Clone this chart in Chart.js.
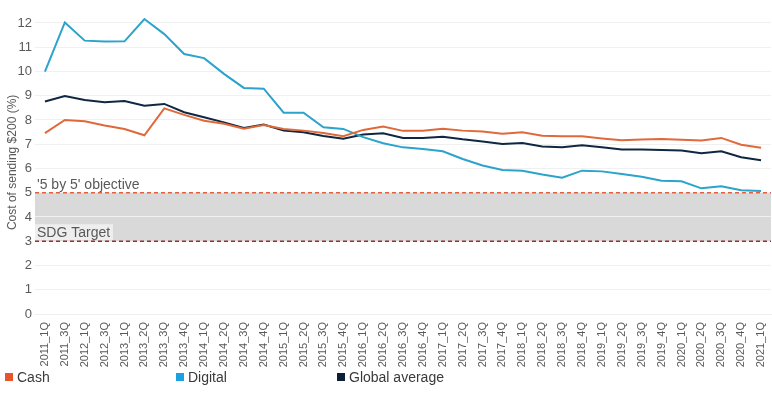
<!DOCTYPE html>
<html>
<head>
<meta charset="utf-8">
<script src="https://cdn.jsdelivr.net/npm/chart.js@4/dist/chart.umd.min.js"></script>
<style>
  html, body { margin: 0; padding: 0; background: #fff; }
  #wrap { position: relative; width: 772px; height: 397px; }
  #legend { position: absolute; left: 0; top: 369px; width: 772px; height: 18px;
            font-family: "Liberation Sans", Arial, sans-serif; font-size: 14px; color: #3a3a3a; }
  #legend span.item { position: absolute; top: 0; white-space: nowrap; }
  #legend span.box { display: inline-block; width: 8px; height: 8px; margin-right: 4px; vertical-align: 1px; }
</style>
</head>
<body>
<div id="wrap">
  <canvas id="grafico" width="772" height="397"></canvas>
  <div id="legend"></div>
</div>
<script>
// ===============================
//   DADOS
// ===============================
const trimestres = [
  "2011_1Q", "2011_3Q", "2012_1Q", "2012_3Q",
  "2013_1Q", "2013_2Q", "2013_3Q", "2013_4Q",
  "2014_1Q", "2014_2Q", "2014_3Q", "2014_4Q",
  "2015_1Q", "2015_2Q", "2015_3Q", "2015_4Q",
  "2016_1Q", "2016_2Q", "2016_3Q", "2016_4Q",
  "2017_1Q", "2017_2Q", "2017_3Q", "2017_4Q",
  "2018_1Q", "2018_2Q", "2018_3Q", "2018_4Q",
  "2019_1Q", "2019_2Q", "2019_3Q", "2019_4Q",
  "2020_1Q", "2020_2Q", "2020_3Q", "2020_4Q",
  "2021_1Q"
];

const cash = [
  7.46, 8.00, 7.95, 7.77, 7.63, 7.37, 8.48, 8.21, 7.97, 7.84, 7.64, 7.79,
  7.63, 7.56, 7.46, 7.33, 7.59, 7.73, 7.55, 7.55, 7.64, 7.56, 7.52, 7.43,
  7.49, 7.35, 7.33, 7.33, 7.24, 7.16, 7.19, 7.21, 7.18, 7.15, 7.26, 6.98,
  6.85
];

const digital = [
  9.99, 12.02, 11.27, 11.23, 11.24, 12.16, 11.54, 10.72, 10.55, 9.90, 9.32, 9.29,
  8.30, 8.30, 7.70, 7.63, 7.29, 7.04, 6.87, 6.80, 6.71, 6.39, 6.12, 5.94,
  5.91, 5.75, 5.62, 5.91, 5.88, 5.77, 5.66, 5.49, 5.47, 5.18, 5.27, 5.10,
  5.07
];

const mediaGlobal = [
  8.76, 8.99, 8.82, 8.73, 8.78, 8.59, 8.66, 8.32, 8.11, 7.90, 7.67, 7.81,
  7.56, 7.49, 7.34, 7.23, 7.40, 7.45, 7.26, 7.26, 7.31, 7.20, 7.11, 7.01,
  7.05, 6.91, 6.87, 6.96, 6.87, 6.78, 6.78, 6.76, 6.74, 6.63, 6.71, 6.46,
  6.34
];

const ticksY = [0, 1, 2, 3, 4, 5, 6, 7, 8, 9, 10, 11, 12];

const objetivo5x5 = 5;   // '5 by 5' objective
const metaSDG = 3;       // SDG Target

const fonte = '"Liberation Sans", Arial, sans-serif';
const cinza = "#595959";

// ===============================
//   FAIXA / LINHAS DE META
// ===============================
const faixaMetas = {
  id: "faixaMetas",
  beforeDraw(chart) {
    const { ctx, chartArea: a, scales: { y } } = chart;
    const y5 = y.getPixelForValue(objetivo5x5);
    const y3 = y.getPixelForValue(metaSDG);
    ctx.save();
    ctx.fillStyle = "#d9d9d9";
    ctx.fillRect(a.left, y5, a.right - a.left, y3 - y5);
    ctx.restore();
  },
  beforeDatasetsDraw(chart) {
    const { ctx, chartArea: a, scales: { y } } = chart;
    const y5 = y.getPixelForValue(objetivo5x5);
    const y3 = y.getPixelForValue(metaSDG);
    ctx.save();
    // caixa clara atras do texto SDG
    ctx.fillStyle = "rgba(255,255,255,0.55)";
    ctx.fillRect(a.left, y3 - 17, 78, 16);

    ctx.lineWidth = 1.5;
    ctx.setLineDash([4, 3]);
    ctx.strokeStyle = "#e0603f";
    ctx.beginPath(); ctx.moveTo(a.left, y5); ctx.lineTo(a.right, y5); ctx.stroke();
    ctx.strokeStyle = "#9b2d2d";
    ctx.beginPath(); ctx.moveTo(a.left, y3); ctx.lineTo(a.right, y3); ctx.stroke();
    ctx.setLineDash([]);

    ctx.fillStyle = cinza;
    ctx.font = "14px " + fonte;
    ctx.textBaseline = "alphabetic";
    ctx.fillText("'5 by 5' objective", a.left + 2, y5 - 4);
    ctx.fillText("SDG Target", a.left + 2, y3 - 4);
    ctx.restore();
  }
};

// ===============================
//   GRAFICO
// ===============================
const series = [
  { label: "Cash", data: cash, cor: "#e0693a", corLegenda: "#e8552d" },
  { label: "Digital", data: digital, cor: "#2ba3cc", corLegenda: "#1ba1e2" },
  { label: "Global average", data: mediaGlobal, cor: "#0f2741", corLegenda: "#0b1f3a" }
];

new Chart(document.getElementById("grafico"), {
  type: "line",
  data: {
    labels: trimestres,
    datasets: series.map(s => ({
      label: s.label,
      data: s.data,
      borderColor: s.cor,
      backgroundColor: s.cor,
      borderWidth: 2,
      pointRadius: 0,
      tension: 0,
      fill: false
    }))
  },
  options: {
    responsive: false,
    animation: false,
    layout: { padding: { top: 10, right: 1, left: 0, bottom: 28 } },
    plugins: {
      legend: { display: false },
      tooltip: { enabled: false }
    },
    scales: {
      x: {
        offset: true,
        grid: { display: false },
        border: { color: "#eeeeee" },
        ticks: {
          autoSkip: false,
          maxRotation: 90,
          minRotation: 90,
          padding: 0,
          color: cinza,
          font: { family: fonte, size: 11 }
        },
        afterFit(scale) {
          scale.height = 55;
          scale.paddingLeft = 0;
          scale.paddingRight = 0;
        }
      },
      y: {
        min: 0,
        max: 12.5,
        afterBuildTicks(scale) {
          scale.ticks = ticksY.map(v => ({ value: v }));
        },
        ticks: {
          padding: 3,
          color: cinza,
          font: { family: fonte, size: 13 }
        },
        grid: { color: "#f0f0f0", drawTicks: false },
        border: { display: false },
        title: {
          display: true,
          text: "Cost of sending $200 (%)",
          color: cinza,
          font: { family: fonte, size: 12 },
          padding: { top: 5, bottom: 0 }
        },
        afterFit(scale) { scale.width = 35; }
      }
    }
  },
  plugins: [faixaMetas]
});

// ===============================
//   LEGENDA
// ===============================
const posLegenda = [5, 176, 337];
document.getElementById("legend").innerHTML = series.map((s, i) =>
  `<span class="item" style="left:${posLegenda[i]}px"><span class="box" style="background:${s.corLegenda}"></span>${s.label}</span>`
).join("");
</script>
</body>
</html>
